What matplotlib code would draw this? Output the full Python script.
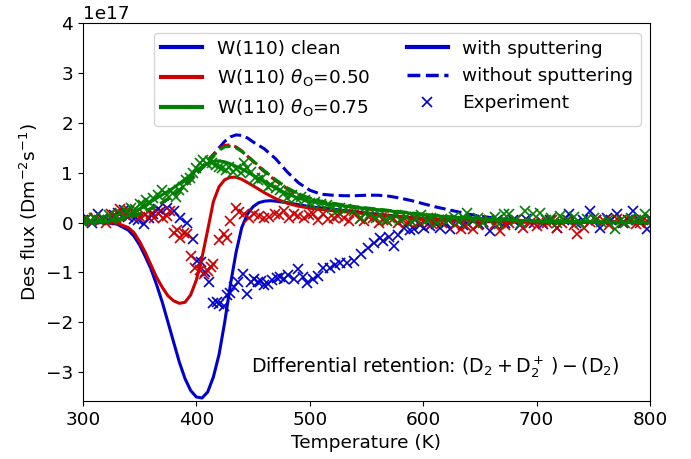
import matplotlib
matplotlib.use("Agg")
import matplotlib.pyplot as plt
import numpy as np
from matplotlib.lines import Line2D

SCALE = 1e17

# ---- model curves (values in units of 1e17) ----
T_blue_sp = [300, 310, 320, 330, 340, 345, 350, 355, 360, 365, 370, 375, 380, 385, 390, 395, 400, 405,
             410, 415, 420, 425, 430, 435, 440, 445, 450, 455, 460, 465, 470, 480, 490, 500, 520, 540,
             560, 580, 600, 620, 650, 700, 800]
V_blue_sp = [0, 0, 0, -0.03, -0.15, -0.27, -0.45, -0.68, -0.93, -1.25, -1.6, -2.0, -2.4, -2.8, -3.13,
             -3.37, -3.5, -3.52, -3.4, -3.1, -2.65, -2.0, -1.25, -0.6, -0.1, 0.17, 0.32, 0.4, 0.43, 0.44,
             0.43, 0.4, 0.36, 0.32, 0.27, 0.22, 0.17, 0.12, 0.08, 0.05, 0.02, 0.01, 0]

T_blue_ns = [300, 320, 330, 340, 350, 360, 370, 380, 390, 400, 410, 420, 425, 430, 435, 440, 445, 450,
             460, 470, 480, 490, 500, 510, 520, 530, 540, 550, 560, 570, 580, 590, 600, 610, 620, 630,
             640, 650, 660, 680, 700, 750, 800]
V_blue_ns = [0, 0.02, 0.04, 0.09, 0.17, 0.28, 0.4, 0.55, 0.74, 0.97, 1.23, 1.5, 1.63, 1.72, 1.76, 1.75,
             1.7, 1.62, 1.48, 1.28, 1.02, 0.8, 0.65, 0.57, 0.55, 0.54, 0.54, 0.55, 0.55, 0.53, 0.49,
             0.44, 0.38, 0.32, 0.27, 0.22, 0.17, 0.13, 0.1, 0.05, 0.02, 0.01, 0]

T_red_sp = [300, 320, 330, 340, 345, 350, 355, 360, 365, 370, 375, 380, 385, 390, 395, 400, 405, 410,
            415, 420, 425, 430, 435, 440, 450, 460, 470, 480, 490, 500, 520, 540, 560, 580, 600, 620,
            650, 700, 800]
V_red_sp = [0, 0, -0.01, -0.1, -0.2, -0.38, -0.6, -0.85, -1.1, -1.3, -1.47, -1.57, -1.62, -1.6, -1.45,
            -1.15, -0.7, -0.15, 0.42, 0.72, 0.86, 0.91, 0.91, 0.87, 0.74, 0.6, 0.48, 0.39, 0.33, 0.29,
            0.24, 0.2, 0.15, 0.11, 0.08, 0.05, 0.03, 0.01, 0]

T_red_ns = [300, 310, 320, 330, 340, 350, 360, 370, 380, 390, 400, 410, 420, 425, 430, 435, 440, 450,
            460, 470, 480, 490, 500, 510, 520, 540, 560, 580, 600, 620, 650, 700, 750, 800]
V_red_ns = [0, 0.01, 0.02, 0.04, 0.09, 0.17, 0.28, 0.4, 0.55, 0.74, 0.97, 1.25, 1.48, 1.55, 1.56, 1.52,
            1.44, 1.23, 1.02, 0.84, 0.68, 0.56, 0.47, 0.41, 0.37, 0.3, 0.25, 0.2, 0.15, 0.11, 0.07,
            0.03, 0.01, 0]

T_green_sp = [300, 320, 330, 340, 350, 360, 370, 380, 390, 400, 405, 410, 415, 420, 425, 430, 440, 450,
              460, 470, 480, 490, 500, 510, 520, 540, 560, 580, 600, 620, 650, 700, 750, 800]
V_green_sp = [0, 0.02, 0.06, 0.14, 0.27, 0.42, 0.56, 0.7, 0.87, 1.05, 1.12, 1.19, 1.23, 1.24, 1.22,
              1.18, 1.08, 0.95, 0.82, 0.69, 0.58, 0.49, 0.43, 0.39, 0.36, 0.31, 0.26, 0.21, 0.16, 0.12,
              0.08, 0.03, 0.01, 0]

T_green_ns = [300, 310, 320, 330, 340, 350, 360, 370, 380, 390, 400, 410, 420, 425, 430, 435, 440, 450,
              460, 470, 480, 490, 500, 510, 520, 540, 560, 580, 600, 620, 650, 700, 750, 800]
V_green_ns = [0, 0.01, 0.02, 0.04, 0.09, 0.17, 0.28, 0.4, 0.55, 0.74, 0.97, 1.24, 1.45, 1.52, 1.53,
              1.5, 1.43, 1.24, 1.04, 0.86, 0.7, 0.58, 0.49, 0.43, 0.39, 0.32, 0.27, 0.22, 0.17, 0.12,
              0.08, 0.03, 0.01, 0]

# ---- experiments (values in units of 1e17) ----
T_blue_exp = [300, 304, 308, 313, 318, 322, 327, 331, 336, 340, 345, 349, 354, 358, 362, 366, 369, 374,
              380, 386, 392, 397, 401, 404, 408, 411, 415, 418, 420, 424, 427, 430, 433, 437, 441, 445,
              448, 451, 454, 457, 460, 463, 467, 471, 474, 477, 481, 486, 490, 494, 498, 503, 507, 512,
              518, 522, 527, 533, 539, 545, 551, 557, 562, 565, 570, 574, 578, 583, 588, 592, 597, 601,
              606, 611, 615, 620, 624, 630, 635, 639, 645, 649, 653, 659, 665, 672, 679, 685, 691, 698,
              706, 712, 718, 724, 729, 735, 741, 747, 752, 756, 762, 766, 771, 776, 781, 785, 790, 797, 800]
V_blue_exp = [0.05, 0.1, 0.0, 0.18, 0.08, 0.05, 0.15, 0.2, 0.25, 0.12, 0.08, 0.05, -0.02, 0.1, 0.18,
              0.28, 0.24, 0.3, 0.24, 0.1, 0.0, -0.32, -0.77, -0.8, -1.0, -1.2, -1.62, -1.6, -1.64, -1.68,
              -1.45, -1.41, -1.3, -1.2, -1.03, -1.44, -1.2, -1.13, -1.2, -1.17, -1.25, -1.23, -1.15,
              -1.11, -1.1, -1.13, -1.05, -1.13, -0.93, -1.1, -1.21, -1.13, -1.08, -0.91, -0.91, -0.85,
              -0.81, -0.81, -0.77, -0.63, -0.51, -0.4, -0.3, -0.36, -0.28, -0.47, -0.25, -0.1, -0.15,
              -0.12, -0.05, -0.1, -0.06, -0.02, -0.1, 0.0, -0.12, 0.05, -0.05, 0.0, 0.05, -0.03, 0.02,
              -0.16, 0.05, 0.0, 0.05, -0.05, 0.08, 0.0, -0.02, 0.05, -0.1, 0.05, 0.18, 0.0, 0.05, 0.24,
              0.05, -0.1, 0.1, 0.05, 0.18, 0.0, 0.05, 0.24, 0.05, -0.12, 0.1]

T_red_exp = [300, 303, 307, 311, 316, 320, 325, 329, 333, 337, 341, 345, 350, 355, 360, 363, 366, 371,
             374, 377, 380, 383, 386, 389, 392, 395, 399, 403, 407, 410, 413, 415, 420, 424, 427, 430,
             435, 438, 442, 446, 451, 455, 460, 464, 469, 473, 477, 482, 486, 490, 495, 499, 503, 507,
             512, 516, 521, 525, 530, 535, 539, 544, 548, 552, 556, 561, 565, 568, 573, 578, 582, 587,
             592, 596, 600, 604, 608, 612, 617, 622, 628, 633, 638, 644, 648, 653, 658, 663, 668, 672,
             676, 682, 688, 694, 700, 705, 709, 714, 718, 722, 728, 733, 736, 742, 747, 752, 759, 764,
             771, 776, 783, 788, 791, 794, 798]
V_red_exp = [0.03, 0.08, 0.04, 0.1, 0.06, 0.0, 0.18, 0.1, 0.28, 0.15, 0.24, 0.2, 0.12, 0.15, 0.18, 0.1,
             0.2, 0.1, 0.14, 0.24, -0.2, -0.15, -0.3, -0.2, -0.22, -0.67, -0.91, -0.95, -1.03, -0.97,
             -0.9, -0.83, -0.35, -0.22, -0.3, 0.04, 0.3, 0.22, 0.18, 0.1, 0.18, 0.14, 0.1, 0.12, 0.18,
             0.15, 0.24, 0.1, 0.18, 0.14, 0.1, 0.15, 0.18, 0.05, 0.18, 0.08, 0.1, 0.14, 0.1, 0.03, 0.18,
             0.08, 0.04, 0.12, 0.1, 0.0, 0.06, 0.04, 0.08, 0.0, 0.05, 0.02, 0.1, 0.02, 0.04, 0.1, -0.02,
             0.04, 0.0, 0.06, -0.04, -0.12, -0.06, -0.12, -0.04, 0.02, 0.06, -0.02, -0.16, -0.05, 0.0,
             0.05, -0.1, 0.0, -0.06, 0.02, 0.0, 0.05, -0.1, 0.0, 0.05, -0.05, -0.22, -0.1, 0.02, 0.05,
             0.04, -0.05, 0.08, 0.02, 0.05, -0.03, 0.0, 0.06, 0.02]

T_green_exp = [300, 303, 306, 310, 314, 318, 323, 326, 329, 333, 338, 342, 346, 350, 353, 356, 359, 362,
               366, 370, 374, 379, 382, 385, 388, 391, 394, 397, 400, 403, 406, 409, 412, 414, 417, 420,
               423, 426, 429, 432, 435, 439, 442, 445, 448, 452, 454, 458, 463, 466, 470, 474, 477, 480,
               484, 488, 492, 496, 500, 505, 510, 515, 520, 524, 527, 532, 539, 545, 549, 553, 558, 562,
               567, 571, 576, 580, 585, 590, 594, 598, 603, 607, 612, 617, 622, 627, 632, 636, 639, 643,
               648, 653, 658, 663, 667, 671, 676, 681, 686, 690, 697, 703, 708, 713, 718, 721, 727, 733,
               738, 744, 751, 757, 763, 769, 774, 778, 783, 788, 792, 796, 800]
V_green_exp = [0.02, 0.08, 0.04, 0.1, 0.06, 0.1, 0.15, 0.08, 0.14, 0.2, 0.24, 0.3, 0.28, 0.38, 0.35,
               0.45, 0.4, 0.5, 0.55, 0.65, 0.55, 0.59, 0.52, 0.65, 0.71, 0.85, 0.9, 0.99, 1.1, 1.2, 1.26,
               1.18, 1.24, 1.2, 1.15, 1.12, 1.1, 1.05, 1.12, 1.01, 1.08, 1.0, 1.2, 1.1, 1.01, 0.89, 0.85,
               0.9, 0.71, 0.75, 0.7, 0.65, 0.6, 0.5, 0.55, 0.5, 0.51, 0.45, 0.4, 0.42, 0.38, 0.35, 0.3,
               0.24, 0.3, 0.28, 0.24, 0.1, 0.2, 0.18, 0.1, 0.15, 0.05, 0.1, 0.15, 0.06, 0.12, 0.02, 0.08,
               0.15, 0.05, 0.1, 0.0, 0.08, 0.05, 0.12, 0.02, 0.1, 0.2, 0.05, 0.1, 0.0, 0.06, 0.12, -0.02,
               0.18, 0.18, 0.05, 0.0, 0.24, 0.18, 0.2, 0.05, 0.1, 0.0, 0.14, 0.05, 0.12, 0.0, 0.08, 0.1,
               0.02, 0.06, -0.12, 0.05, 0.0, 0.1, 0.05, 0.08, 0.18, 0.05]

labels_material = ["W(110) clean", r"W(110) $\theta_\mathrm{O}$=0.50", r"W(110) $\theta_\mathrm{O}$=0.75"]
labels_style = ["with sputtering", "without sputtering", "Experiment"]

BLUE = "#0000cc"
RED = "#cc0000"
GREEN = "#008000"

FS = 13.3
plt.rcParams["font.size"] = FS
plt.rcParams["font.family"] = ["DejaVu Sans"]

fig = plt.figure(figsize=(6.91, 4.59), dpi=100)
ax = fig.add_axes([0.120, 0.1264, 0.8207, 0.8228])

LW = 2.2
MS = 7.5
series = [
    (BLUE, T_blue_sp, V_blue_sp, T_blue_ns, V_blue_ns, T_blue_exp, V_blue_exp),
    (RED, T_red_sp, V_red_sp, T_red_ns, V_red_ns, T_red_exp, V_red_exp),
    (GREEN, T_green_sp, V_green_sp, T_green_ns, V_green_ns, T_green_exp, V_green_exp),
]
for col, ts, vs, tn, vn, te, ve in series:
    ax.plot(te, np.array(ve) * SCALE, ls="none", marker="x", ms=MS, mew=1.2, color=col)
    ax.plot(tn, np.array(vn) * SCALE, ls="--", lw=LW, color=col)
    ax.plot(ts, np.array(vs) * SCALE, ls="-", lw=LW, color=col)

ax.set_xlim(300, 800)
ax.set_ylim(-3.58 * SCALE, 4 * SCALE)
ax.set_xticks([300, 400, 500, 600, 700, 800])
ax.set_yticks(np.arange(-3, 5) * SCALE)
ax.set_xlabel("Temperature (K)", fontsize=FS)
ax.set_ylabel(r"Des flux (Dm$^{-2}$s$^{-1}$)", fontsize=FS)
ax.tick_params(labelsize=FS)
ax.yaxis.get_offset_text().set_fontsize(FS)

handles = [
    Line2D([], [], color=BLUE, lw=3),
    Line2D([], [], color=RED, lw=3),
    Line2D([], [], color=GREEN, lw=3),
    Line2D([], [], color=BLUE, lw=3, ls="-"),
    Line2D([], [], color=BLUE, lw=2.5, ls="--"),
    Line2D([], [], color=BLUE, ls="none", marker="x", ms=MS, mew=1.2),
]
ax.legend(handles, labels_material + labels_style, ncol=2, loc="upper right",
          fontsize=FS, columnspacing=2.0, handlelength=2.2, labelspacing=0.5)

ax.text(0.947, 0.09, r"Differential retention: $(\mathrm{D}_2+\mathrm{D}_2^+\,)-(\mathrm{D}_2)$",
        transform=ax.transAxes, ha="right", va="center", fontsize=FS + 0.3)

fig.savefig("out.png", dpi=100)
